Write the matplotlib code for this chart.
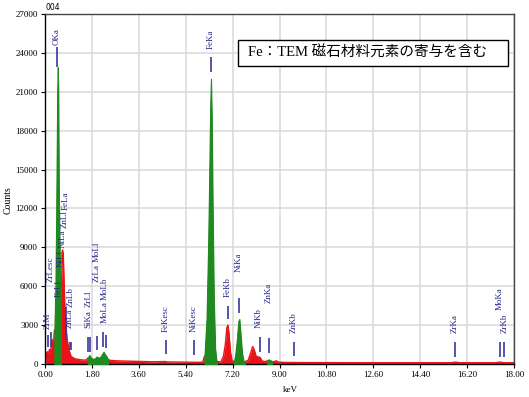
import numpy as np
import matplotlib.pyplot as plt
from matplotlib.patches import Rectangle

# spectrum (keV, counts)
energy = [0.00, 0.04, 0.06, 0.10, 0.14, 0.17, 0.20, 0.24, 0.27, 0.30, 0.33,
          0.36, 0.40, 0.43, 0.45, 0.47, 0.49, 0.51, 0.53, 0.56, 0.59, 0.61,
          0.64, 0.67, 0.70, 0.73, 0.76, 0.80, 0.85, 0.90, 0.95, 1.00, 1.10,
          1.20, 1.35, 1.50, 1.60, 1.64, 1.70, 1.76, 1.85, 1.92, 1.98, 2.05,
          2.12, 2.20, 2.25, 2.30, 2.36, 2.42, 2.50, 2.70, 3.00, 3.60, 4.20,
          4.60, 4.70, 5.40, 5.80, 6.05, 6.12, 6.20, 6.26, 6.30, 6.34, 6.37,
          6.40, 6.44, 6.48, 6.53, 6.58, 6.60, 6.75, 6.85, 6.92, 6.98, 7.02,
          7.06, 7.12, 7.18, 7.25, 7.30, 7.36, 7.42, 7.46, 7.50, 7.56, 7.62,
          7.68, 7.80, 7.90, 7.97, 8.03, 8.10, 8.18, 8.26, 8.32, 8.45, 8.52,
          8.58, 8.65, 8.72, 8.82, 8.88, 8.95, 9.20, 10.0, 12.0, 15.6, 15.75,
          15.9, 17.3, 17.45, 17.6, 18.0]
counts = [0, 0, 850, 950, 800, 1100, 1000, 1300, 1900, 1400, 1700,
          2600, 6000, 11500, 16300, 21000, 22900, 21000, 13500, 9000, 6500, 5500,
          6500, 8800, 8500, 6500, 4500, 3000, 1900, 1300, 900, 600, 450,
          380, 330, 300, 320, 450, 700, 500, 380, 450, 580, 480,
          550, 800, 950, 750, 600, 350, 280, 250, 230, 200, 170,
          190, 160, 140, 130, 140, 600, 3500, 9000, 14000, 19800, 22000,
          19000, 11000, 5000, 1200, 250, 200, 150, 600, 1500, 2800, 3000,
          2400, 900, 250, 200, 700, 1800, 3300, 3470, 2500, 900, 250,
          180, 300, 900, 1340, 1100, 600, 550, 500, 250, 170, 250,
          360, 300, 180, 200, 250, 150, 120, 110, 100, 100, 150,
          100, 100, 150, 100, 100]

# identified peak windows (keV), drawn green
green_ranges = [(0.36, 0.61), (1.64, 2.42), (6.12, 6.60), (7.25, 7.68), (8.52, 8.72)]

# marker lines: energy, bottom, top (counts)
mark_energy = [0.13, 0.23, 0.47, 0.80, 0.96, 0.99, 1.66, 1.73, 1.98, 2.24, 2.34,
               4.63, 5.72, 6.37, 7.04, 7.46, 8.25, 8.60, 9.55, 15.73, 17.46, 17.61]
mark_lo = [1310, 1310, 22900, 1850, 1080, 1080, 930, 930, 1080, 1310, 1230,
           770, 690, 22530, 3470, 3930, 930, 850, 620, 540, 540, 540]
mark_hi = [2240, 2470, 24450, 4400, 1700, 1700, 2080, 2080, 2160, 2470, 2240,
           1850, 1850, 23680, 4470, 5090, 2080, 2000, 1700, 1700, 1700, 1700]

# marker labels: text, energy, bottom (counts)
lab_text = ['ZrM', 'ZrLesc', 'OKa', 'FeLl', 'NiLl', 'NiLa', 'ZnLl', 'FeLa',
            'ZnLa', 'ZnLb', 'SiKa', 'ZrLl', 'ZrLa', 'MoLl', 'MoLa', 'MoLb',
            'FeKesc', 'NiKesc', 'FeKa', 'FeKb', 'NiKa', 'NiKb', 'ZnKa', 'ZnKb',
            'ZrKa', 'MoKa', 'ZrKb']
lab_energy = [0.10, 0.22, 0.46, 0.51, 0.61, 0.70, 0.75, 0.81,
              0.96, 0.98, 1.68, 1.68, 1.98, 1.98, 2.28, 2.28,
              4.63, 5.69, 6.37, 7.01, 7.44, 8.21, 8.57, 9.53,
              15.71, 17.46, 17.65]
lab_base = [2700, 6325, 24600, 5170, 7480, 8950, 10490, 11880,
            2780, 4400, 2780, 4400, 6325, 7870, 3160, 4940,
            2470, 2470, 24300, 5170, 7100, 2780, 4700, 2390,
            2390, 4170, 2390]

e = np.array(energy)
c = np.array(counts)

fig = plt.figure(figsize=(5.29, 3.97), dpi=100)
ax = fig.add_axes([45/529, 1-364/397, 469/529, 350/397])

red = '#e8141a'
green = '#1f8a1f'
navy = '#26268a'

# red outline only outside the green windows
outline = np.maximum(c, 100).astype(float)
for a, b in green_ranges:
    outline[(e > a) & (e < b)] = np.nan

ax.fill_between(e, c, 0, color=red, lw=0, zorder=2)
ax.plot(e, outline, color=red, lw=1.0, zorder=2)
for a, b in green_ranges:
    m = (e >= a) & (e <= b)
    ax.fill_between(e, c, 0, where=m, facecolor=green, edgecolor=green,
                    lw=0.8, zorder=3)

ax.vlines(mark_energy, mark_lo, mark_hi, color='#3a3a9c', lw=1.2, zorder=4)
for t, x, y in zip(lab_text, lab_energy, lab_base):
    ax.text(x, y, t, rotation=90, ha='center', va='bottom', fontsize=6.5,
            family='Liberation Serif', color=navy, zorder=5)

ax.set_xlim(0, 18)
ax.set_ylim(0, 27000)
ax.set_xticks(np.arange(0, 18.01, 1.8))
ax.set_xticklabels(['%.2f' % v for v in np.arange(0, 18.01, 1.8)])
ax.set_yticks(np.arange(0, 27001, 3000))
ax.grid(True, color='#d8d8d8', lw=1.1)
ax.set_axisbelow(True)
ax.tick_params(labelsize=6.5, length=3, width=0.8, pad=2)
for lab in ax.get_xticklabels() + ax.get_yticklabels():
    lab.set_family('Liberation Serif')
for s in ['top', 'right']:
    ax.spines[s].set_color('#444444')
for s in ax.spines.values():
    s.set_linewidth(1.0)

fig.text(8/529, 1-200/397, 'Counts', rotation=90, ha='center', va='center',
         fontsize=7, family='Liberation Serif')
fig.text(290/529, 1-390/397, 'keV', ha='center', va='center',
         fontsize=6.5, family='Liberation Serif')
fig.text(45/529, 1-7/397, '004', ha='left', va='center', fontsize=5.5)

fig.add_artist(Rectangle((238/529, 1-66/397), 270/529, 26/397,
                         transform=fig.transFigure, fc='white', ec='black', lw=1.0))
fig.text(248/529, 1-53/397, 'Fe：TEM 磁石材料元素の寄与を含む', ha='left', va='center',
         fontsize=10.5, family=['Liberation Serif', 'Noto Sans CJK JP'])

fig.savefig('out.png', dpi=100)
